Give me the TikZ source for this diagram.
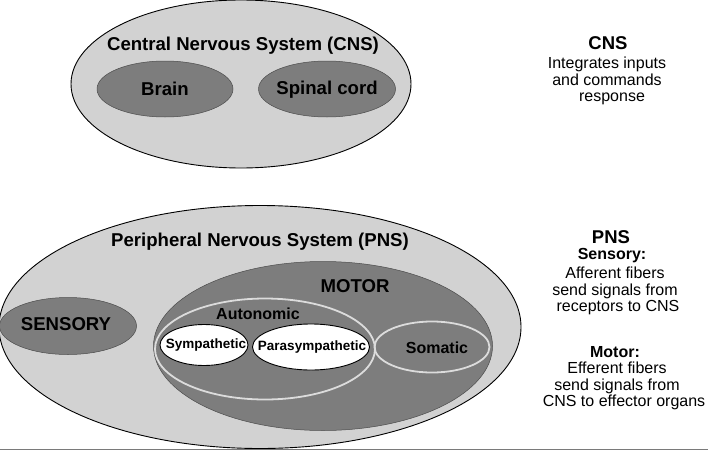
\documentclass[tikz,border=0pt]{standalone}
\usepackage{fontspec}
\setmainfont{Liberation Sans}
\usetikzlibrary{shapes.geometric}
\definecolor{lightfill}{HTML}{D2D2D2}
\definecolor{darkfill}{HTML}{7D7D7D}
\definecolor{ringcol}{HTML}{DCDCDC}
\definecolor{rulecol}{HTML}{7A7A7A}
\tikzset{
  outerell/.style={ellipse, draw=black, line width=0.9pt, fill=lightfill, inner sep=0pt},
  darkell/.style={ellipse, draw=black!70, line width=0.5pt, fill=darkfill, inner sep=0pt},
  ringell/.style={ellipse, draw=ringcol, line width=1.8pt, inner sep=0pt},
  whiteell/.style={ellipse, draw=black, line width=0.9pt, fill=white, inner sep=0pt},
  bigtitle/.style={font=\bfseries\fontsize{18.6}{20}\selectfont, inner sep=0pt},
  midtitle/.style={font=\bfseries\fontsize{16}{18}\selectfont, inner sep=0pt},
  smalltitle/.style={font=\bfseries\fontsize{13.5}{15}\selectfont, inner sep=0pt},
  desc/.style={font=\fontsize{16}{16.5}\selectfont, align=center, inner sep=0pt},
  head/.style={font=\bfseries\fontsize{18.5}{20}\selectfont, inner sep=0pt},
  subhead/.style={font=\bfseries\fontsize{16}{17}\selectfont, inner sep=0pt}
}
\begin{document}
\begin{tikzpicture}[x=1pt,y=-1pt]
\useasboundingbox (0,0) rectangle (708,452);
% CNS
\node[outerell, minimum width=340pt, minimum height=168pt] (cns) at (241,84) {};
\node[bigtitle] (cnst) at (243,46) {Central Nervous System (CNS)};
\node[darkell, minimum width=136pt, minimum height=56pt] (brain) at (165,89) {};
\node[bigtitle] (braint) at (165,89) {Brain};
\node[darkell, minimum width=137pt, minimum height=56pt] (spinal) at (327,89) {};
\node[bigtitle] (spinalt) at (327,90) {Spinal cord};
% PNS
\node[outerell, minimum width=522pt, minimum height=243pt] (pns) at (260,327) {};
\node[bigtitle] (pnst) at (260,242) {Peripheral Nervous System (PNS)};
\node[darkell, minimum width=137pt, minimum height=57pt] (sensory) at (68,326) {};
\node[bigtitle] (sensoryt) at (66,324) {SENSORY};
\node[darkell, minimum width=339pt, minimum height=169pt] (motor) at (323,346) {};
\node[bigtitle] (motort) at (355,286) {MOTOR};
\node[ringell, minimum width=220pt, minimum height=101pt] (auto) at (265,349) {};
\node[midtitle] (autot) at (258,314) {Autonomic};
\node[ringell, minimum width=115pt, minimum height=51pt] (somatic) at (432,347) {};
\node[midtitle] (somatict) at (437,348) {Somatic};
\node[whiteell, minimum width=88pt, minimum height=41pt] (symp) at (204,345) {};
\node[smalltitle] (sympt) at (206,345) {Sympathetic};
\node[whiteell, minimum width=117pt, minimum height=46pt] (para) at (311,347) {};
\node[smalltitle] (parat) at (312,347) {Parasympathetic};
% right text
\node[head] (cnsh) at (608,43) {CNS};
\node[desc] (cnsd) at (607,81) {Integrates inputs\\and commands\\\hspace*{10pt}response};
\node[head] (pnsh) at (611,237) {PNS};
\node[subhead] (sensh) at (612,256) {Sensory:};
\node[desc] (sensd) at (615,291) {Afferent fibers\\send signals from\\\hspace*{6pt}receptors to CNS};
\node[subhead] (moth) at (615,352) {Motor:};
\node[desc] (motd) at (617,386) {Efferent fibers\\send signals from\\\hspace*{14pt}CNS to effector organs};
% bottom rule
\coordinate (ruleL) at (0,449.5);
\coordinate (ruleR) at (708,449.5);
\draw[rulecol, line width=1.6pt] (ruleL) -- (ruleR);
\end{tikzpicture}
\end{document}
